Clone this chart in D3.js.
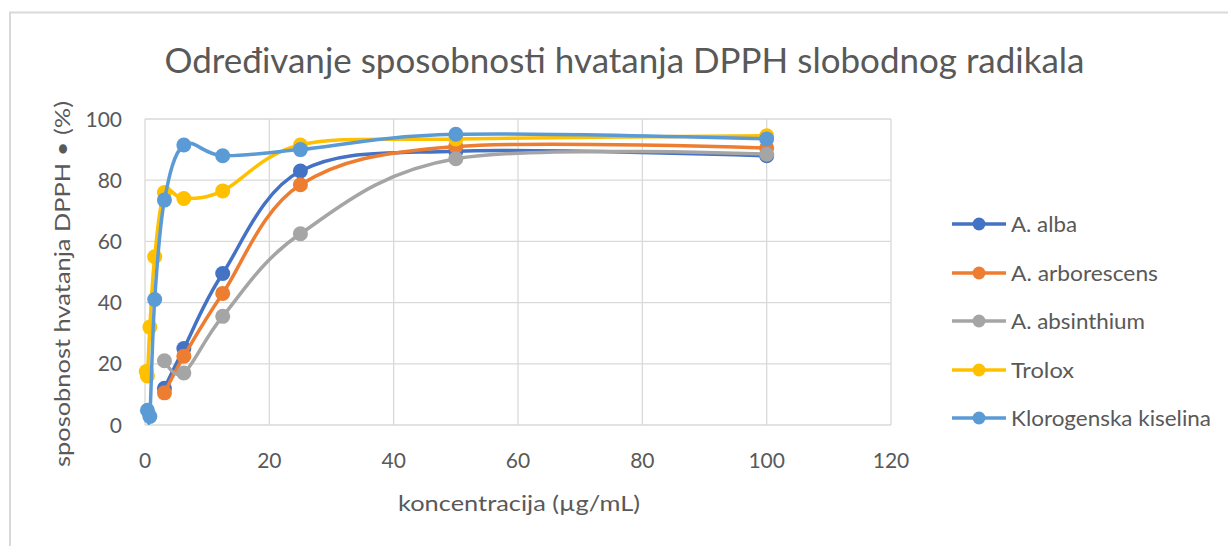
<!DOCTYPE html>
<html>
<head>
<meta charset="utf-8">
<script src="https://cdn.jsdelivr.net/npm/d3@7/dist/d3.min.js"></script>
<style>
  html, body { margin: 0; padding: 0; background: #fff; }
  svg { display: block; font-family: Lato, "Open Sans", sans-serif; }
</style>
</head>
<body>
<svg id="chart" width="1228" height="546"></svg>
<script>
// ---- data ----
const titleText = "Određivanje sposobnosti hvatanja DPPH slobodnog radikala";
const xTitle = "koncentracija (µg/mL)";
const yTitle = "sposobnost hvatanja DPPH • (%)";
const xTicks = [0, 20, 40, 60, 80, 100, 120];
const yTicks = [0, 20, 40, 60, 80, 100];

const seriesNames = ["A. alba", "A. arborescens", "A. absinthium", "Trolox", "Klorogenska kiselina"];
const seriesColors = ["#4472C4", "#ED7D31", "#A5A5A5", "#FFC000", "#5B9BD5"];

const concPlants = [3.125, 6.25, 12.5, 25, 50, 100];
const albaVals = [12, 25, 49.5, 83, 89.5, 88];
const arborescensVals = [10.5, 22.5, 43, 78.5, 91, 90.5];
const absinthiumVals = [21, 17, 35.5, 62.5, 87, 88.5];

const concTrolox = [0.2, 0.39, 0.78, 1.56, 3.125, 6.25, 12.5, 25, 50, 100];
const troloxVals = [17.5, 16, 32, 55, 76, 74, 76.5, 91.5, 93.5, 94.5];

const concKloro = [0.39, 0.78, 1.56, 3.125, 6.25, 12.5, 25, 50, 100];
const kloroVals = [4.8, 2.8, 41, 73.5, 91.5, 88, 90, 95, 93.5];

const seriesX = [concPlants, concPlants, concPlants, concTrolox, concKloro];
const seriesY = [albaVals, arborescensVals, absinthiumVals, troloxVals, kloroVals];

// ---- chart ----
const svg = d3.select("#chart");
const textColor = "#595959";
const gridColor = "#d9d9d9";

// outer frame
svg.append("path")
  .attr("d", "M10,546 L10,12.5 L1228,12.5")
  .attr("fill", "none").attr("stroke", "#d9d9d9").attr("stroke-width", 2);

const x = d3.scaleLinear().domain([0, 120]).range([145, 891]);
const y = d3.scaleLinear().domain([0, 100]).range([425, 119]);

// gridlines
svg.append("g").selectAll("line").data(yTicks).join("line")
  .attr("x1", x(0)).attr("x2", x(120))
  .attr("y1", d => y(d)).attr("y2", d => y(d))
  .attr("stroke", gridColor).attr("stroke-width", 1.3);
svg.append("g").selectAll("line").data(xTicks).join("line")
  .attr("y1", y(0)).attr("y2", y(100))
  .attr("x1", d => x(d)).attr("x2", d => x(d))
  .attr("stroke", gridColor).attr("stroke-width", 1.3);

// tick labels
svg.append("g").selectAll("text").data(yTicks).join("text")
  .attr("x", 122).attr("y", d => y(d)).attr("dy", "0.36em")
  .attr("text-anchor", "end").attr("font-size", 21).attr("fill", textColor)
  .text(d => d);
svg.append("g").selectAll("text").data(xTicks).join("text")
  .attr("x", d => x(d)).attr("y", 468)
  .attr("text-anchor", "middle").attr("font-size", 21).attr("fill", textColor)
  .text(d => d);

// title
svg.append("text")
  .attr("x", 624.5).attr("y", 73)
  .attr("text-anchor", "middle").attr("font-size", 34).attr("fill", textColor)
  .attr("textLength", 920).attr("lengthAdjust", "spacingAndGlyphs")
  .text(titleText);

// axis titles
svg.append("text")
  .attr("x", 519).attr("y", 511)
  .attr("text-anchor", "middle").attr("font-size", 22).attr("fill", textColor)
  .attr("textLength", 242).attr("lengthAdjust", "spacingAndGlyphs")
  .text(xTitle);
svg.append("text")
  .attr("transform", "translate(70,284) rotate(-90)")
  .attr("text-anchor", "middle").attr("font-size", 22).attr("fill", textColor)
  .attr("textLength", 366).attr("lengthAdjust", "spacingAndGlyphs")
  .text(yTitle);

// series
const line = d3.line().curve(d3.curveCardinal.tension(0))
  .x(d => x(d[0])).y(d => y(d[1]));

seriesNames.forEach((name, i) => {
  const pts = seriesX[i].map((c, j) => [c, seriesY[i][j]]);
  const g = svg.append("g");
  g.append("path").datum(pts)
    .attr("d", line).attr("fill", "none")
    .attr("stroke", seriesColors[i]).attr("stroke-width", 3.5)
    .attr("stroke-linejoin", "round").attr("stroke-linecap", "round");
  g.selectAll("circle").data(pts).join("circle")
    .attr("cx", d => x(d[0])).attr("cy", d => y(d[1])).attr("r", 7.5)
    .attr("fill", seriesColors[i]);
});

// legend
const legendY = [224, 273, 321, 370, 418];
const legendWidths = [66, 147, 134, 63, 200];
const lg = svg.append("g");
seriesNames.forEach((name, i) => {
  lg.append("line")
    .attr("x1", 952).attr("x2", 1006)
    .attr("y1", legendY[i]).attr("y2", legendY[i])
    .attr("stroke", seriesColors[i]).attr("stroke-width", 3.5);
  lg.append("circle").attr("cx", 979).attr("cy", legendY[i]).attr("r", 6.5)
    .attr("fill", seriesColors[i]);
  lg.append("text")
    .attr("x", 1011).attr("y", legendY[i] + 8)
    .attr("font-size", 22).attr("fill", textColor)
    .attr("textLength", legendWidths[i]).attr("lengthAdjust", "spacingAndGlyphs")
    .text(name);
});
</script>
</body>
</html>
